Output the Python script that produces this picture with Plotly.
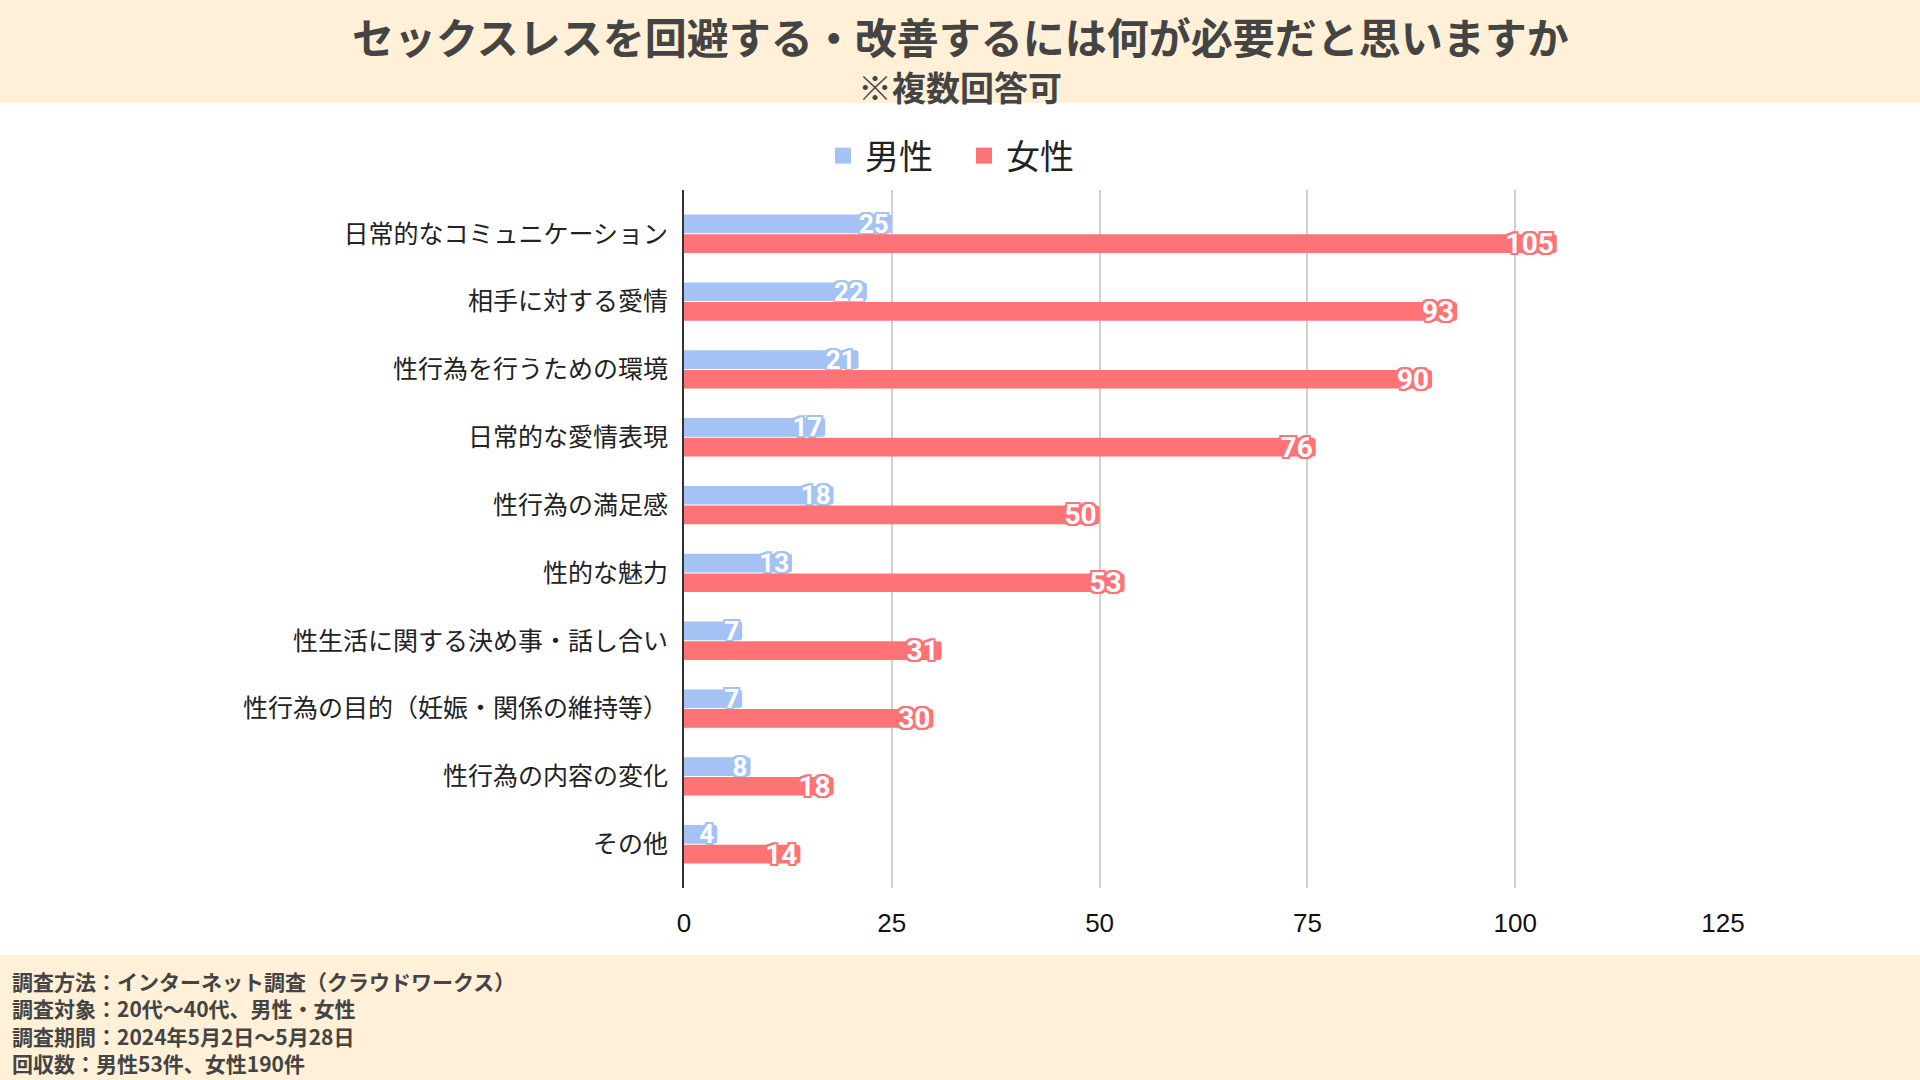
import plotly.graph_objects as go

categories = [
    "日常的なコミュニケーション",
    "相手に対する愛情",
    "性行為を行うための環境",
    "日常的な愛情表現",
    "性行為の満足感",
    "性的な魅力",
    "性生活に関する決め事・話し合い",
    "性行為の目的（妊娠・関係の維持等）",
    "性行為の内容の変化",
    "その他",
]
male = [25, 22, 21, 17, 18, 13, 7, 7, 8, 4]
female = [105, 93, 90, 76, 50, 53, 31, 30, 18, 14]
tick_vals = [0, 25, 50, 75, 100, 125]
series_names = ["男性", "女性"]

MALE_C = "#A4C2F4"
FEMALE_C = "#FF7377"
BAND_C = "#FFF0D7"

W, H = 1920, 1080
L, R, T, B = 684, 1723, 190, 888


def px_x(p):
    return (p - L) / (R - L)


def px_y(p):
    return (B - p) / (B - T)


def outline(c):
    return ", ".join(f"{dx}px {dy}px 0 {c}" for dx in (-2, 0, 2) for dy in (-2, 0, 2) if dx or dy)


fig = go.Figure()
for name, vals, col, fs in [(series_names[0], male, MALE_C, 26), (series_names[1], female, FEMALE_C, 28)]:
    fig.add_trace(go.Bar(
        y=categories, x=vals, name=name, orientation="h", showlegend=False,
        marker=dict(color=col, line=dict(width=0)),
        text=vals, textposition="inside", insidetextanchor="end", textangle=0,
        constraintext="none", cliponaxis=False,
        textfont=dict(family="Roboto", size=fs, color="white", weight="bold", shadow=outline(col)),
    ))
# legend entries with larger square swatches
for name, col in [(series_names[0], MALE_C), (series_names[1], FEMALE_C)]:
    fig.add_trace(go.Scatter(
        x=[None], y=[None], mode="markers", name=name,
        marker=dict(symbol="square", size=16, color=col),
    ))

n = len(categories)
pad = 0.145
fig.update_layout(
    width=W, height=H,
    paper_bgcolor="white", plot_bgcolor="white",
    margin=dict(l=L, r=W - R, t=T, b=H - B, autoexpand=False),
    barmode="group", bargap=0.42, bargroupgap=0.05, barcornerradius=3,
    showlegend=True,
    legend=dict(orientation="h", x=px_x(962), xanchor="center", y=px_y(156), yanchor="middle",
                font=dict(family="Noto Sans CJK JP", size=34, color="#222222"),
                itemsizing="trace", itemwidth=34, entrywidth=92, bgcolor="rgba(0,0,0,0)"),
    xaxis=dict(range=[0, 125], tickvals=tick_vals, showgrid=True, gridcolor="#D0D0D0", gridwidth=1.5,
               zeroline=False, showline=False, ticks="", ticklabelstandoff=17,
               tickfont=dict(family="Liberation Sans", size=26, color="#111111")),
    yaxis=dict(range=[n - 0.5 + pad, -0.5 - pad], showgrid=False, showline=True,
               linecolor="#333333", linewidth=2,
               ticks="", ticklabelstandoff=9,
               tickfont=dict(family="Noto Sans CJK JP", size=25, color="#222222")),
    font=dict(family="Noto Sans CJK JP"),
)

# header and footer bands
fig.add_shape(type="rect", xref="paper", yref="paper", layer="below",
              x0=px_x(0), x1=px_x(W), y0=px_y(103), y1=px_y(0), fillcolor=BAND_C, line=dict(width=0))
fig.add_shape(type="rect", xref="paper", yref="paper", layer="below",
              x0=px_x(0), x1=px_x(W), y0=px_y(H), y1=px_y(955), fillcolor=BAND_C, line=dict(width=0))

fig.add_annotation(text="<b>セックスレスを回避する・改善するには何が必要だと思いますか</b>",
                   xref="paper", yref="paper", x=px_x(960), y=px_y(35), showarrow=False,
                   xanchor="center", yanchor="middle",
                   font=dict(family="Noto Sans CJK JP", size=42, color="#444444"))
fig.add_annotation(text="<b>※複数回答可</b>",
                   xref="paper", yref="paper", x=px_x(960), y=px_y(86), showarrow=False,
                   xanchor="center", yanchor="middle",
                   font=dict(family="Noto Sans CJK JP", size=34, color="#444444"))

footer = [
    "調査方法：インターネット調査（クラウドワークス）",
    "調査対象：20代〜40代、男性・女性",
    "調査期間：2024年5月2日〜5月28日",
    "回収数：男性53件、女性190件",
]
fig.add_annotation(text="<br>".join(f"<b>{t}</b>" for t in footer), xref="paper", yref="paper",
                   x=px_x(10), y=px_y(1022), showarrow=False, align="left",
                   xanchor="left", yanchor="middle",
                   font=dict(family="Noto Sans CJK JP", size=21, color="#444444"))

fig.write_html("out.html", config={"displayModeBar": False},
               post_script="document.body.style.margin='0';")
